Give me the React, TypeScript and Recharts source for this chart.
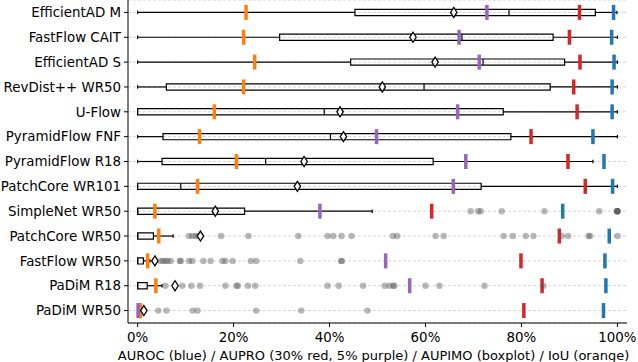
import { ScatterChart, Scatter, XAxis, YAxis, CartesianGrid, ReferenceArea, ReferenceLine } from "recharts";

const models = [
  "EfficientAD M",
  "FastFlow CAIT",
  "EfficientAD S",
  "RevDist++ WR50",
  "U-Flow",
  "PyramidFlow FNF",
  "PyramidFlow R18",
  "PatchCore WR101",
  "SimpleNet WR50",
  "PatchCore WR50",
  "FastFlow WR50",
  "PaDiM R18",
  "PaDiM WR50",
];

// AUPIMO boxplot stats (%)
const whiskerLow = [0, 0, 0, 0, 0, 0, 0, 0, 0, 0, 0, 0, 0];
const q1 = [45.3, 29.6, 44.4, 6.0, 0, 5.3, 5.1, 0, 0, 0, 0, 0, 0];
const median = [77.4, 67.6, 72.0, 59.7, 38.9, 40.2, 26.7, 9.0, 0, 0, 0, 0, 0];
const q3 = [95.4, 86.6, 89.0, 86.0, 76.2, 77.8, 61.6, 71.6, 22.3, 3.3, 1.2, 2.0, 0.3];
const whiskerHigh = [99.9, 100, 100, 100, 100, 100, 94.9, 100, 48.9, 7.4, 2.6, 5.1, 0.5];
const mean = [65.9, 57.4, 62.0, 51.0, 42.2, 42.9, 34.7, 33.3, 16.2, 13.1, 3.6, 7.8, 1.3];
const outliers: number[][] = [
  [],
  [],
  [],
  [],
  [],
  [],
  [],
  [],
  [69.4, 71.0, 71.5, 75.9, 84.8, 96.2, 99.9, 100, 100, 100, 100],
  [10.7, 11.4, 12.1, 12.6, 17.4, 23.1, 33.5, 39.6, 40.8, 42.5, 44.6, 53.2, 54.1, 62.1, 63.8, 76.3, 78.2, 80.9, 82.5, 88.4, 89.7, 94.0, 94.3, 100],
  [4.8, 5.3, 5.8, 6.3, 6.9, 8.8, 9.0, 10.7, 11.4, 13.7, 15.2, 17.7, 18.3, 19.8, 23.6, 24.7, 33.9, 42.4, 42.6],
  [5.8, 9.3, 11.2, 13.0, 18.3, 20.6, 20.9, 23.0, 24.5, 39.6, 41.9, 47.0, 51.5, 52.5, 53.3, 53.5, 60.0, 62.9, 72.3, 84.6],
  [4.3, 6.0, 11.5, 12.5, 24.7, 34.1, 47.9],
];

// per-model summary metrics (%)
const auroc = [99.2, 98.8, 99.3, 98.9, 98.9, 94.9, 97.2, 99.0, 88.6, 98.3, 97.4, 97.6, 97.1];
const aupro30 = [92.1, 90.0, 92.2, 90.9, 91.6, 82.0, 89.7, 93.3, 61.3, 87.9, 79.9, 84.3, 80.5];
const aupro5 = [72.8, 67.0, 71.2, null, 66.7, 49.8, 68.4, 65.8, 38.0, null, 51.7, 56.7, 0.1];
const iou = [22.6, 22.1, 24.4, 22.1, 16.0, 12.9, 20.6, 12.5, 3.6, 4.4, 2.1, 3.8, 0.6];

const xTicks = [0, 20, 40, 60, 80, 100];
const rowTicks = models.map((_, i) => i + 1);

const BOX_HALF = 0.125;
const CAP_HALF = 0.07;

const toPoints = (vals: (number | null)[]) =>
  vals.flatMap((v, i) => (v === null ? [] : [{ x: v, y: i + 1 }]));

const outlierPoints = outliers.flatMap((vals, i) => vals.map((v) => ({ x: v, y: i + 1 })));

const metricTick = (color: string) => (props: any) => (
  <rect x={props.cx - 1.75} y={props.cy - 7.5} width={3.5} height={15} fill={color} />
);

const outlierDot = (props: any) => (
  <circle cx={props.cx} cy={props.cy} r={3.2} fill="#555" fillOpacity={0.42} />
);

const meanDiamond = (props: any) => {
  const { cx, cy } = props;
  return (
    <path
      d={`M${cx},${cy - 5} L${cx + 3.2},${cy} L${cx},${cy + 5} L${cx - 3.2},${cy} Z`}
      fill="#fff"
      stroke="#000"
      strokeWidth={1.3}
    />
  );
};

const axisTick = { fill: "#000", fontSize: 13.4 };

export default function App() {
  return (
    <div style={{ position: "absolute", left: 0, top: 0, background: "#fff", fontFamily: "DejaVu Sans" }}>
      <ScatterChart width={638} height={362} margin={{ top: 0, right: 11, bottom: 0, left: 0 }}>
        <CartesianGrid vertical={false} stroke="#d4d4d4" strokeDasharray="3 2" />
        <XAxis
          type="number"
          dataKey="x"
          domain={[-2, 102]}
          ticks={xTicks}
          tickFormatter={(v) => `${v}%`}
          tick={axisTick}
          tickSize={4}
          tickMargin={5}
          height={39}
          stroke="#000"
          allowDataOverflow
          label={{
            value: "AUROC (blue) / AUPRO (30% red, 5% purple) / AUPIMO (boxplot) / IoU (orange)",
            position: "insideBottom",
            offset: 2,
            dx: -4,
            fill: "#000",
            fontSize: 13,
          }}
        />
        <XAxis xAxisId="top" orientation="top" type="number" domain={[-2, 102]} height={0} tick={false} tickLine={false} stroke="#000" />
        <YAxis
          type="number"
          dataKey="y"
          domain={[0.5, 13.5]}
          reversed
          ticks={rowTicks}
          interval={0}
          tickFormatter={(v) => models[v - 1] ?? ""}
          tick={axisTick}
          tickSize={4}
          tickMargin={3}
          width={128}
          stroke="#000"
          allowDataOverflow
        />
        <YAxis yAxisId="right" orientation="right" type="number" domain={[0.5, 13.5]} width={0} tick={false} tickLine={false} stroke="#000" />

        {models.map((_, i) => {
          const y = i + 1;
          return [
            <ReferenceLine key={`wl${i}`} segment={[{ x: whiskerLow[i], y }, { x: q1[i], y }]} stroke="#000" strokeWidth={1.2} />,
            <ReferenceLine key={`wh${i}`} segment={[{ x: q3[i], y }, { x: whiskerHigh[i], y }]} stroke="#000" strokeWidth={1.2} />,
            <ReferenceLine key={`cl${i}`} segment={[{ x: whiskerLow[i], y: y - CAP_HALF }, { x: whiskerLow[i], y: y + CAP_HALF }]} stroke="#000" strokeWidth={1.2} />,
            <ReferenceLine key={`ch${i}`} segment={[{ x: whiskerHigh[i], y: y - CAP_HALF }, { x: whiskerHigh[i], y: y + CAP_HALF }]} stroke="#000" strokeWidth={1.2} />,
            <ReferenceArea key={`b${i}`} x1={q1[i]} x2={q3[i]} y1={y - BOX_HALF} y2={y + BOX_HALF} fill="none" fillOpacity={0} stroke="#000" strokeWidth={1.2} strokeOpacity={1} />,
            <ReferenceLine key={`m${i}`} segment={[{ x: median[i], y: y - BOX_HALF }, { x: median[i], y: y + BOX_HALF }]} stroke="#000" strokeWidth={1.2} />,
          ];
        })}

        <Scatter data={toPoints(iou)} shape={metricTick("#ff7f0e")} isAnimationActive={false} />
        <Scatter data={toPoints(aupro5)} shape={metricTick("#9467bd")} isAnimationActive={false} />
        <Scatter data={toPoints(aupro30)} shape={metricTick("#d62728")} isAnimationActive={false} />
        <Scatter data={toPoints(auroc)} shape={metricTick("#1f77b4")} isAnimationActive={false} />
        <Scatter data={outlierPoints} shape={outlierDot} isAnimationActive={false} />
        <Scatter data={toPoints(mean)} shape={meanDiamond} isAnimationActive={false} />
      </ScatterChart>
    </div>
  );
}
